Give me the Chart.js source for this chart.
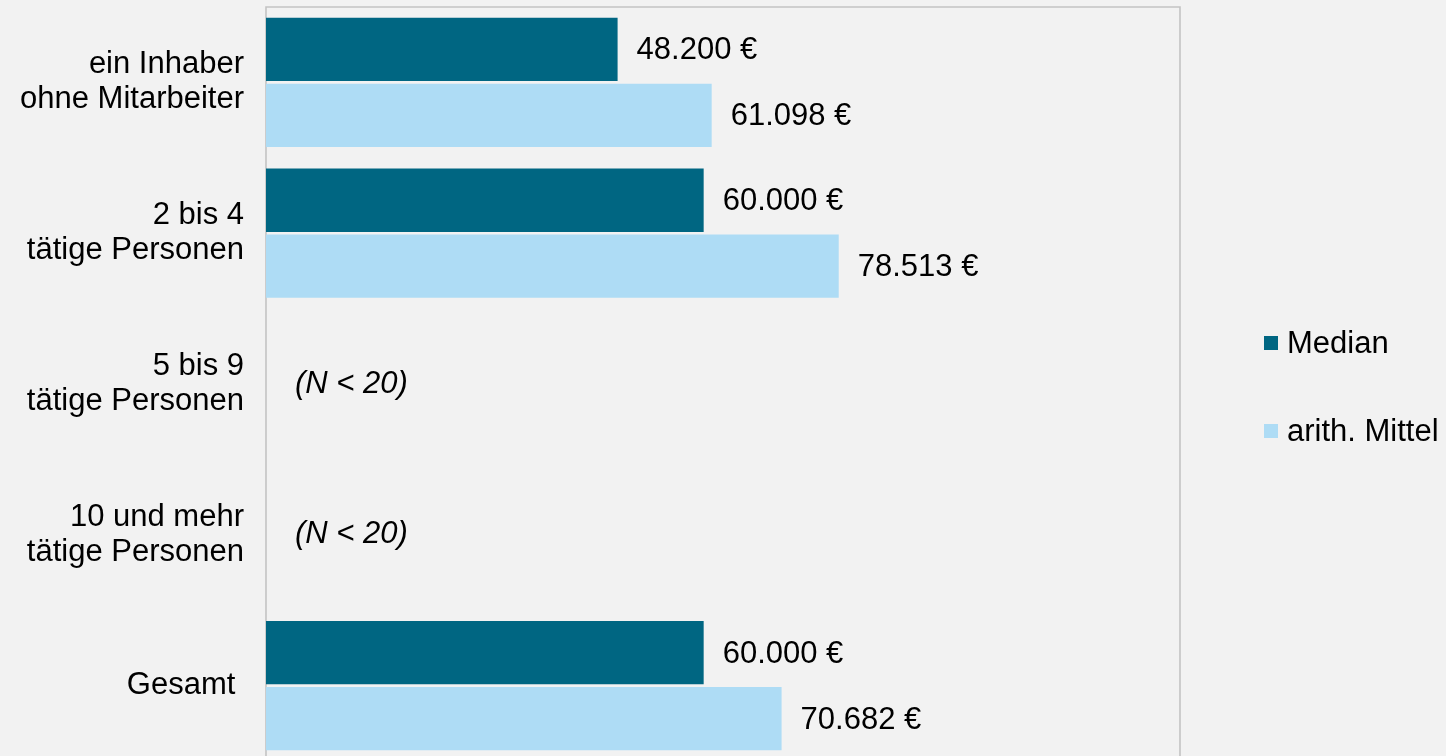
<!DOCTYPE html>
<html lang="de">
<head>
<meta charset="utf-8">
<title>Median und arith. Mittel</title>
<script src="https://cdn.jsdelivr.net/npm/chart.js@4/dist/chart.umd.min.js"></script>
<style>
  html, body { margin: 0; padding: 0; background: #f2f2f2; overflow: hidden; }
  #wrap { width: 1446px; height: 768px; }
</style>
</head>
<body>
<div id="wrap"><canvas id="chart" width="1446" height="768"></canvas></div>
<script>
// Kategorien und Werte
const categories = [
    ['ein Inhaber', 'ohne Mitarbeiter'],
    ['2 bis 4', 'tätige Personen'],
    ['5 bis 9', 'tätige Personen'],
    ['10 und mehr', 'tätige Personen'],
    'Gesamt '
];
const medianValues = [48200, 60000, null, null, 60000];
const meanValues = [61098, 78513, null, null, 70682];
const notes = [null, null, '(N < 20)', '(N < 20)', null];
const xMax = 125300;

const FONT = '"Liberation Sans", Arial, Helvetica, sans-serif';
const FONT_SIZE = 31;

function formatEuro(v) {
    return String(v).replace(/\B(?=(\d{3})+(?!\d))/g, '.') + ' €';
}

// Rahmen der Zeichenfläche (links, oben, rechts)
const plotFrame = {
    id: 'plotFrame',
    beforeDatasetsDraw(chart) {
        const { ctx, chartArea: a } = chart;
        ctx.save();
        ctx.strokeStyle = '#c3c3c3';
        ctx.lineWidth = 1.6;
        ctx.beginPath();
        ctx.moveTo(a.left, a.bottom + 10);
        ctx.lineTo(a.left, a.top);
        ctx.lineTo(a.right, a.top);
        ctx.lineTo(a.right, a.bottom + 10);
        ctx.stroke();
        ctx.restore();
    }
};

// Werte rechts neben den Balken, Hinweise bei fehlenden Daten
const valueLabels = {
    id: 'valueLabels',
    afterDatasetsDraw(chart) {
        const ctx = chart.ctx;
        ctx.save();
        ctx.fillStyle = '#000';
        ctx.textAlign = 'left';
        ctx.textBaseline = 'middle';
        ctx.font = FONT_SIZE + 'px ' + FONT;
        chart.data.datasets.forEach((ds, i) => {
            chart.getDatasetMeta(i).data.forEach((bar, j) => {
                const v = ds.data[j];
                if (v === null) return;
                ctx.fillText(formatEuro(v), bar.x + 19, bar.y + 1.5);
            });
        });
        ctx.font = 'italic ' + FONT_SIZE + 'px ' + FONT;
        const yScale = chart.scales.y;
        notes.forEach((note, j) => {
            if (!note) return;
            ctx.fillText(note, chart.chartArea.left + 29, yScale.getPixelForValue(j));
        });
        ctx.restore();
    }
};

// Legende rechts
const sideLegend = {
    id: 'sideLegend',
    afterDraw(chart) {
        const { ctx, chartArea: a } = chart;
        const x = a.right + 84;
        const midY = (a.top + a.bottom) / 2 + 3;
        const step = 88;
        const n = chart.data.datasets.length;
        ctx.save();
        ctx.font = FONT_SIZE + 'px ' + FONT;
        ctx.textBaseline = 'middle';
        ctx.textAlign = 'left';
        chart.data.datasets.forEach((ds, i) => {
            const y = midY + (i - (n - 1) / 2) * step;
            ctx.fillStyle = ds.backgroundColor;
            ctx.fillRect(x, y - 7, 14, 14);
            ctx.fillStyle = '#000';
            ctx.fillText(ds.label, x + 23, y + 1);
        });
        ctx.restore();
    }
};

const chart = new Chart(document.getElementById('chart').getContext('2d'), {
    type: 'bar',
    data: {
        labels: categories,
        datasets: [
            {
                label: 'Median',
                data: medianValues,
                backgroundColor: '#006682',
                categoryPercentage: 0.875,
                barPercentage: 0.96
            },
            {
                label: 'arith. Mittel',
                data: meanValues,
                backgroundColor: '#aedcf5',
                categoryPercentage: 0.875,
                barPercentage: 0.96
            }
        ]
    },
    options: {
        indexAxis: 'y',
        responsive: false,
        animation: false,
        layout: { padding: { top: 7, right: 266, bottom: 7, left: 0 } },
        plugins: {
            legend: { display: false },
            tooltip: { enabled: false }
        },
        scales: {
            x: { display: false, min: 0, max: xMax },
            y: {
                grid: { display: false, drawTicks: false },
                border: { display: false },
                ticks: {
                    color: '#000',
                    padding: 22,
                    crossAlign: 'near',
                    font: { family: FONT, size: FONT_SIZE, lineHeight: 1.13 }
                },
                afterFit(scale) {
                    // feste Breite, keine Extra-Ränder durch die zweizeiligen Beschriftungen
                    scale.width = 266;
                    scale.paddingTop = 0;
                    scale.paddingBottom = 0;
                }
            }
        }
    },
    plugins: [plotFrame, valueLabels, sideLegend]
});
</script>
</body>
</html>
